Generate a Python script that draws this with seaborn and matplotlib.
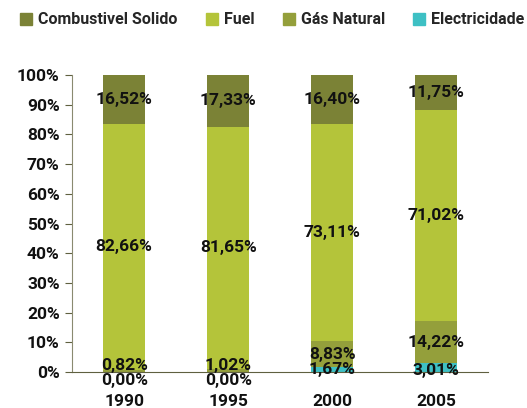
import numpy as np
import pandas as pd
import matplotlib
matplotlib.use("Agg")
import matplotlib.pyplot as plt
import seaborn as sns
from matplotlib.lines import Line2D

anos = ["1990", "1995", "2000", "2005"]
electricidade = [0.00, 0.00, 1.67, 3.01]
gas_natural = [0.82, 1.02, 8.83, 14.22]
fuel = [82.66, 81.65, 73.11, 71.02]
solido = [16.52, 17.33, 16.40, 11.75]

series = ["Electricidade", "Gás Natural", "Fuel", "Combustivel Solido"]
cores = {"Combustivel Solido": "#7b8236", "Fuel": "#b4c43a",
         "Gás Natural": "#949f3b", "Electricidade": "#3ec0c4"}

sns.set_style("white")
plt.rcParams['font.family'] = ['Roboto', 'DejaVu Sans']

df = pd.DataFrame({"ano": anos, "Electricidade": electricidade,
                   "Gás Natural": gas_natural, "Fuel": fuel,
                   "Combustivel Solido": solido})
cum = df[series].cumsum(axis=1)
base = cum.shift(1, axis=1).fillna(0)

fig = plt.figure(figsize=(5.27, 4.08), dpi=100)
ax = fig.add_axes([0.137, 0.088, 0.789, 0.728])

# draw cumulative totals, tallest first, so each layer covers the ones above
for s in series[::-1]:
    sns.barplot(x=df["ano"], y=cum[s], color=cores[s], width=0.41,
                saturation=1, linewidth=0, ax=ax, zorder=2)

# label offsets (points) for the small segments near zero
offsets = {"Electricidade": [-6, -6, 0, -2], "Gás Natural": [4, 4, 0, 0],
           "Fuel": [0, 0, 0, 0], "Combustivel Solido": [0, 0, 0, 0]}
for s in series:
    for i in range(len(anos)):
        v = df[s][i]
        mid = base[s][i] + v / 2
        ax.annotate(f"{v:.2f}%".replace(".", ","), (i, mid),
                    xytext=(0, offsets[s][i]), textcoords="offset points",
                    ha="center", va="center", fontsize=12.5, fontweight="bold",
                    color="#111111", zorder=5)

ax.set_ylim(0, 100)
ax.set_xlim(-0.5, 3.5)
ax.set_yticks(np.arange(0, 101, 10))
ax.set_yticklabels([f"{t}%" for t in range(0, 101, 10)])
ax.set_xlabel("")
ax.set_ylabel("")
ax.set_xticks(np.arange(-0.5, 4, 1), minor=True)
ax.tick_params(axis="x", which="major", length=0, pad=16, labelsize=12.5)
ax.tick_params(axis="x", which="minor", length=5, color="#8a8a70", direction="out")
ax.tick_params(axis="y", length=5, color="#5f6040", labelsize=12.5, pad=4, left=True)
for lab in ax.get_xticklabels() + ax.get_yticklabels():
    lab.set_fontweight("bold")
    lab.set_color("#111111")
for sp in ["top", "right"]:
    ax.spines[sp].set_visible(False)
ax.spines["left"].set_color("#8a8a70")
ax.spines["bottom"].set_color("#5f6040")
ax.spines["bottom"].set_zorder(4)

handles = [Line2D([], [], marker="s", linestyle="", markersize=8,
                  color=cores[s]) for s in series[::-1]]
fig.legend(handles, series[::-1], loc="upper center", ncol=4,
           bbox_to_anchor=(0.515, 1.005), frameon=False, handletextpad=0.25,
           columnspacing=1.65, handlelength=1.0,
           prop={"size": 11.5, "weight": "bold"})

fig.savefig("out.png", dpi=100)
